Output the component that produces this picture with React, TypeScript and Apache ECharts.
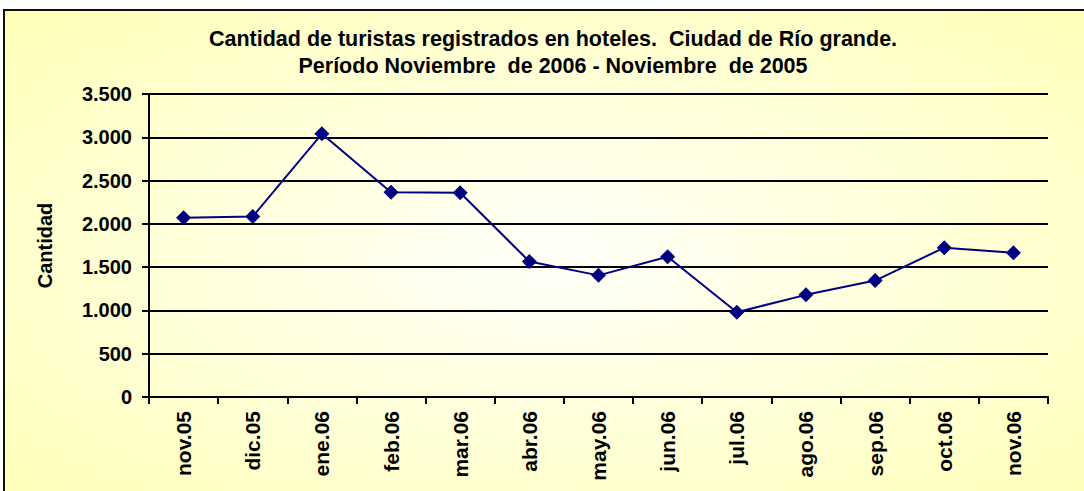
import React, { useEffect, useRef } from "react";
import * as echarts from "echarts";

const categories = ["nov.05", "dic.05", "ene.06", "feb.06", "mar.06", "abr.06", "may.06", "jun.06", "jul.06", "ago.06", "sep.06", "oct.06", "nov.06"];
const turistas = [2070, 2085, 3040, 2365, 2360, 1565, 1405, 1620, 980, 1180, 1345, 1725, 1665];
const titleLines = ["Cantidad de turistas registrados en hoteles.  Ciudad de Río grande.", "Período Noviembre  de 2006 - Noviembre  de 2005"];
const yAxisName = "Cantidad";

const fmt = (v: number) => v.toString().replace(/\B(?=(\d{3})+(?!\d))/g, ".");
const FONT = "Liberation Sans, Arial, sans-serif";

export default function App() {
  const ref = useRef<HTMLDivElement>(null);
  useEffect(() => {
    if (!ref.current) return;
    const chart = echarts.init(ref.current, null, { renderer: "svg" });
    chart.setOption({
      animation: false,
      backgroundColor: "#ffffff",
      graphic: [
        {
          type: "rect",
          z: -10,
          silent: true,
          shape: { x: 4, y: 10, width: 1100, height: 500 },
          style: {
            fill: new echarts.graphic.RadialGradient(0.5, 0.5, 0.7, [
              { offset: 0, color: "#fffffa" },
              { offset: 1, color: "#ffffb8" },
            ]),
            stroke: "#111111",
            lineWidth: 2,
          },
        },
      ],
      title: {
        text: titleLines.join("\n"),
        left: 548,
        textAlign: "center",
        top: 20,
        textStyle: {
          fontFamily: FONT,
          fontWeight: "bold",
          fontSize: 21.5,
          lineHeight: 27,
          color: "#000000",
        },
      },
      grid: { left: 149, top: 94, right: 36, bottom: 94, containLabel: false },
      xAxis: {
        type: "category",
        data: categories,
        boundaryGap: true,
        axisLine: { lineStyle: { color: "#000000", width: 2 } },
        axisTick: { show: true, length: 7, lineStyle: { color: "#000000", width: 2 }, alignWithLabel: false },
        axisLabel: {
          rotate: 90,
          interval: 0,
          margin: 14,
          fontFamily: FONT,
          fontWeight: "bold",
          fontSize: 21,
          color: "#000000",
        },
      },
      yAxis: {
        type: "value",
        min: 0,
        max: 3500,
        interval: 500,
        name: yAxisName,
        nameLocation: "middle",
        nameGap: 94,
        nameRotate: 90,
        nameTextStyle: {
          fontFamily: FONT,
          fontWeight: "bold",
          fontSize: 20,
          color: "#000000",
        },
        axisLine: { show: true, lineStyle: { color: "#000000", width: 2 } },
        axisTick: { show: true, length: 7, lineStyle: { color: "#000000", width: 2 } },
        splitLine: { show: true, lineStyle: { color: "#000000", width: 2 } },
        axisLabel: {
          formatter: (v: number) => fmt(v),
          margin: 17,
          fontFamily: FONT,
          fontWeight: "bold",
          fontSize: 20,
          color: "#000000",
        },
      },
      series: [
        {
          type: "line",
          data: turistas,
          symbol: "diamond",
          symbolSize: 15,
          itemStyle: { color: "#000080" },
          lineStyle: { color: "#000080", width: 2 },
        },
      ],
    });
    return () => chart.dispose();
  }, []);
  return <div ref={ref} style={{ position: "fixed", left: 0, top: 0, width: 1084, height: 491 }} />;
}
